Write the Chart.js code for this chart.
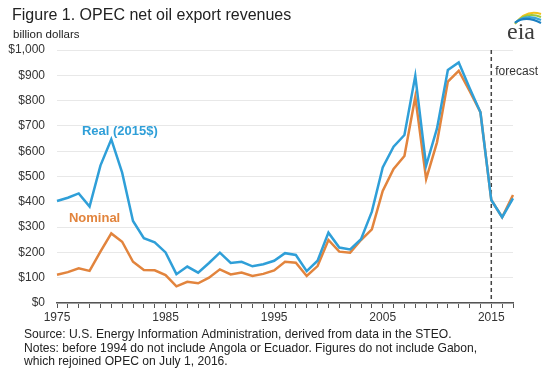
<!DOCTYPE html>
<html>
<head>
<meta charset="utf-8">
<script src="https://cdn.jsdelivr.net/npm/chart.js"></script>
<style>
html,body{margin:0;padding:0;background:#fff;}
#wrap{width:545px;height:379px;position:relative;}
</style>
</head>
<body>
<div id="wrap"><canvas id="c" width="545" height="379"></canvas></div>
<script>
const years = [1975,1976,1977,1978,1979,1980,1981,1982,1983,1984,1985,1986,1987,1988,1989,1990,1991,1992,1993,1994,1995,1996,1997,1998,1999,2000,2001,2002,2003,2004,2005,2006,2007,2008,2009,2010,2011,2012,2013,2014,2015,2016,2017];
const realValues = [403,416,433,381,543,647,515,324,256,240,200,114,144,120,158,199,158,163,145,153,167,197,190,126,167,278,219,212,252,361,536,618,664,898,543,690,921,951,850,754,407,339,414];
const nominalValues = [112,122,137,127,203,275,242,163,130,129,110,66,84,78,100,133,113,120,107,115,129,163,159,107,146,249,203,199,249,291,443,530,581,815,490,635,875,918,838,754,407,339,427];
const yTicks = [0,100,200,300,400,500,600,700,800,900,1000];
const forecastStart = 2015;

const FONT = "'Liberation Sans', Arial, sans-serif";
Chart.defaults.font.family = FONT;

const BLUE = '#2f9fd8';
const ORANGE = '#e2843d';

const textPlugin = {
  id: 'texts',
  beforeDatasetsDraw(chart) {
    const ctx = chart.ctx, x = chart.scales.x, a = chart.chartArea;
    const px = x.getPixelForValue(years.indexOf(forecastStart));
    ctx.save();
    ctx.strokeStyle = '#444';
    ctx.lineWidth = 1.5;
    ctx.setLineDash([4,3]);
    ctx.beginPath();
    ctx.moveTo(px, a.top);
    ctx.lineTo(px, a.bottom);
    ctx.stroke();
    ctx.restore();
  },
  afterDraw(chart) {
    const ctx = chart.ctx, x = chart.scales.x, y = chart.scales.y;
    ctx.save();
    ctx.textBaseline = 'alphabetic';
    ctx.textAlign = 'left';
    ctx.fillStyle = '#222';
    ctx.font = "16px " + FONT;
    ctx.fillText('Figure 1. OPEC net oil export revenues', 12, 20);
    ctx.font = "11.5px " + FONT;
    ctx.fillText('billion dollars', 13, 38);

    ctx.font = "12.1px " + FONT;
    ctx.fillStyle = '#222';
    ctx.textBaseline = 'middle';
    ctx.fillText('Source: U.S. Energy Information Administration, derived from data in the STEO.', 24, 335);
    ctx.fillText('Notes: before 1994 do not include Angola or Ecuador. Figures do not include Gabon,', 24, 349);
    ctx.fillText('which rejoined OPEC on July 1, 2016.', 24, 362);

    // forecast label
    const fx = x.getPixelForValue(years.indexOf(forecastStart));
    ctx.font = "12px " + FONT;
    ctx.fillStyle = '#333';
    ctx.fillText('forecast', fx + 4, 72);

    // series labels
    ctx.font = "bold 13px " + FONT;
    ctx.fillStyle = BLUE;
    ctx.fillText('Real (2015$)', x.getPixelForValue(2.3), y.getPixelForValue(680));
    ctx.fillStyle = ORANGE;
    ctx.fillText('Nominal', x.getPixelForValue(1.1), y.getPixelForValue(333));

    // eia logo
    ctx.textBaseline = 'alphabetic';
    ctx.font = "24px 'Liberation Serif', 'DejaVu Serif', serif";
    ctx.fillStyle = '#3d3d3d';
    ctx.fillText('eia', 507, 39);
    const cols = ['#f2c21b','#9cc83c','#3aa6d8','#1b7fc2'];
    ctx.lineWidth = 2;
    for (let i = 0; i < cols.length; i++) {
      ctx.strokeStyle = cols[i];
      ctx.beginPath();
      ctx.moveTo(515, 24 - i*0.5);
      ctx.quadraticCurveTo(526, 9 + i*2, 541, 14 + i*3);
      ctx.stroke();
    }
    ctx.restore();
  }
};

new Chart(document.getElementById('c'), {
  type: 'line',
  data: {
    labels: years.map(String),
    datasets: [
      { label: 'Real (2015$)', data: realValues, borderColor: BLUE, borderWidth: 2.5, pointRadius: 0, tension: 0, fill: false },
      { label: 'Nominal', data: nominalValues, borderColor: ORANGE, borderWidth: 2.5, pointRadius: 0, tension: 0, fill: false }
    ]
  },
  options: {
    responsive: false,
    animation: false,
    events: [],
    layout: { padding: { top: 50, right: 32, bottom: 50, left: 0 } },
    plugins: { legend: { display: false }, tooltip: { enabled: false }, title: { display: false } },
    scales: {
      x: {
        type: 'category',
        offset: false,
        afterFit(s) { s.height = 26; },
        grid: { drawOnChartArea: false, drawTicks: true, tickLength: 5, color: '#555', lineWidth: 1 },
        border: { display: true, color: '#555', width: 1.5 },
        ticks: {
          autoSkip: false, maxRotation: 0, minRotation: 0, padding: 2,
          color: '#333', font: { size: 12 },
          callback(v, i) { return (years[i] - 1975) % 10 === 0 ? String(years[i]) : ''; }
        }
      },
      y: {
        min: 0, max: 1000,
        afterFit(s) { s.width = 57; },
        afterBuildTicks(s) { s.ticks = yTicks.map(v => ({ value: v })); },
        grid: { drawTicks: false, color: '#e8e8e8', lineWidth: 1 },
        border: { display: false },
        ticks: {
          padding: 12, color: '#333', font: { size: 12 },
          callback(v) { return '$' + Number(v).toLocaleString('en-US'); }
        }
      }
    }
  },
  plugins: [textPlugin]
});
</script>
</body>
</html>
